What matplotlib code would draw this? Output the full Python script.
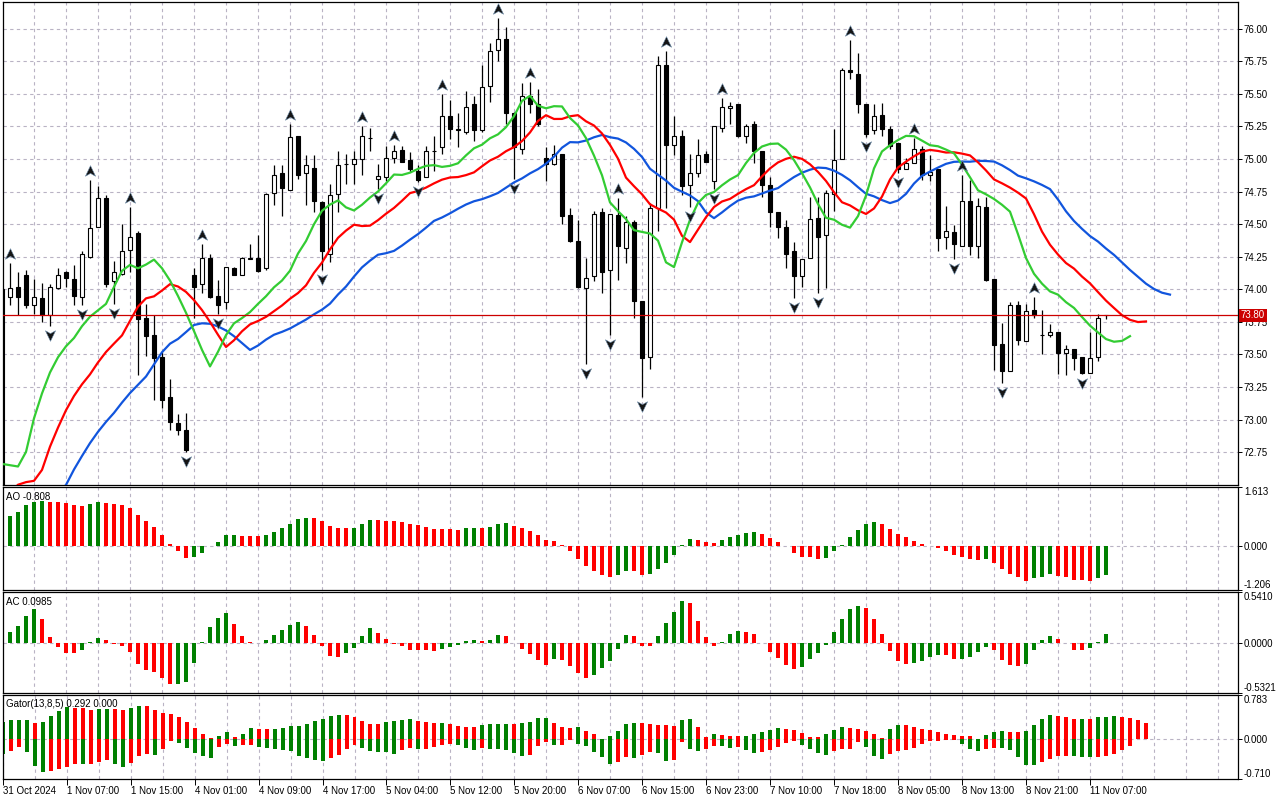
import numpy as np
import matplotlib
matplotlib.use("Agg")
import matplotlib.pyplot as plt
from matplotlib.path import Path
from matplotlib.transforms import ScaledTranslation, blended_transform_factory

plt.rcParams['font.family'] = ['Liberation Sans', 'DejaVu Sans']

# ---------------- data ----------------
first_bar = -1  # index of the first (partly hidden) candle

opens = [72.40, 73.94, 74.02, 74.11, 73.88, 73.93, 73.80, 74.01, 74.13, 74.08,
         73.94, 74.25, 74.48, 74.70, 74.06, 74.12, 74.30, 74.43, 73.78, 73.65,
         73.48, 73.17, 72.97, 72.92, 74.11, 74.04, 74.24, 73.95, 73.90, 74.16,
         74.11, 74.23, 74.24, 74.16, 74.74, 74.89, 74.76, 75.18, 74.89, 74.93,
         74.67, 74.27, 74.73, 74.96, 74.96, 75.00, 75.16, 74.85, 74.86, 75.01,
         75.07, 74.99, 74.91, 74.86, 75.06, 75.09, 75.33, 75.23, 75.21, 75.42,
         75.22, 75.56, 75.84, 75.92, 75.35, 75.08, 75.48, 75.42, 75.01, 74.96,
         75.04, 74.57, 74.37, 74.01, 74.10, 74.59, 74.15, 74.57, 74.32, 74.52,
         73.91, 73.48, 74.62, 75.72, 75.11, 75.18, 74.80, 74.89, 75.04, 74.83,
         75.24, 75.39, 75.42, 75.18, 75.27, 75.06, 74.80, 74.59, 74.48, 74.29,
         74.10, 74.24, 74.55, 74.42, 74.73, 75.00, 75.68, 75.65, 75.42, 75.22,
         75.34, 75.23, 75.12, 74.92, 74.97, 75.08, 74.88, 74.92, 74.40, 74.44,
         74.33, 74.68, 74.33, 74.63, 74.08, 73.58, 73.37, 73.88, 73.60, 73.84,
         73.65, 73.65, 73.67, 73.51, 73.54, 73.48, 73.36, 73.48, 73.80]

highs = [74.02, 74.20, 74.13, 74.15, 74.08, 74.05, 74.04, 74.16, 74.14, 74.19,
         74.29, 74.84, 74.79, 74.72, 74.22, 74.50, 74.63, 74.45, 73.89, 73.80,
         73.52, 73.31, 73.04, 73.05, 74.16, 74.35, 74.27, 74.07, 74.17, 74.17,
         74.25, 74.35, 74.42, 74.74, 74.95, 74.95, 75.27, 75.18, 75.03, 75.03,
         74.68, 74.81, 75.06, 75.04, 75.06, 75.25, 75.24, 74.96, 75.10, 75.11,
         75.10, 75.05, 74.95, 75.10, 75.18, 75.50, 75.45, 75.35, 75.52, 75.48,
         75.72, 75.89, 76.08, 76.01, 75.36, 75.58, 75.59, 75.54, 75.09, 75.11,
         75.04, 74.62, 74.53, 74.24, 74.60, 74.62, 74.58, 74.70, 74.56, 74.53,
         73.91, 74.66, 75.79, 75.83, 75.33, 75.22, 75.04, 75.15, 75.06, 75.25,
         75.47, 75.44, 75.42, 75.27, 75.29, 75.06, 74.86, 74.59, 74.53, 74.36,
         74.23, 74.71, 74.71, 74.76, 75.23, 75.70, 75.91, 75.81, 75.42, 75.42,
         75.43, 75.25, 75.12, 75.01, 75.16, 75.10, 75.03, 74.92, 74.64, 74.49,
         74.88, 74.84, 74.70, 74.71, 74.08, 73.74, 73.90, 73.91, 73.89, 73.94,
         73.84, 73.73, 73.67, 73.57, 73.54, 73.48, 73.67, 73.81, 73.80]

lows = [72.38, 73.88, 73.80, 73.86, 73.81, 73.75, 73.72, 74.00, 74.02, 73.88,
        73.88, 74.24, 74.48, 74.02, 73.89, 74.11, 74.13, 73.34, 73.49, 73.15,
        73.09, 72.92, 72.88, 72.75, 73.78, 73.97, 73.93, 73.81, 73.85, 74.11,
        74.11, 74.23, 74.13, 74.15, 74.65, 74.56, 74.76, 74.85, 74.65, 74.59,
        74.15, 74.21, 74.59, 74.81, 74.81, 74.88, 75.06, 74.77, 74.83, 74.97,
        74.98, 74.90, 74.82, 74.86, 74.91, 75.04, 75.15, 75.09, 75.19, 75.14,
        75.21, 75.44, 75.75, 75.27, 74.85, 75.04, 75.35, 75.25, 74.83, 74.95,
        74.50, 74.36, 74.01, 73.43, 74.06, 73.97, 73.65, 74.07, 74.20, 73.78,
        73.17, 73.39, 74.45, 74.62, 75.03, 74.72, 74.63, 74.86, 74.98, 74.77,
        75.21, 75.27, 75.17, 75.12, 74.97, 74.71, 74.48, 74.39, 74.16, 73.93,
        74.02, 74.24, 73.97, 74.01, 74.60, 75.00, 75.61, 75.35, 75.17, 75.19,
        75.18, 75.08, 74.89, 74.92, 74.97, 74.84, 74.83, 74.29, 74.31, 74.23,
        74.33, 74.26, 74.24, 74.06, 73.38, 73.28, 73.37, 73.57, 73.60, 73.78,
        73.50, 73.63, 73.35, 73.34, 73.38, 73.35, 73.36, 73.45, 73.77]

closes = [74.00, 74.01, 73.94, 73.88, 73.94, 73.80, 74.02, 74.11, 74.09, 73.95,
          74.27, 74.47, 74.70, 74.04, 74.13, 74.29, 74.40, 73.77, 73.64, 73.47,
          73.15, 72.98, 72.92, 72.77, 74.02, 74.24, 73.94, 73.88, 74.17, 74.11,
          74.24, 74.24, 74.14, 74.73, 74.88, 74.78, 75.17, 74.88, 74.95, 74.68,
          74.29, 74.72, 74.95, 74.96, 75.00, 75.18, 75.16, 74.87, 75.01, 75.06,
          74.98, 74.92, 74.84, 75.06, 75.06, 75.33, 75.23, 75.22, 75.40, 75.22,
          75.55, 75.83, 75.92, 75.35, 75.09, 75.48, 75.42, 75.27, 74.96, 75.04,
          74.56, 74.37, 74.02, 74.09, 74.58, 74.13, 74.58, 74.33, 74.52, 73.91,
          73.47, 74.62, 75.72, 75.11, 75.18, 74.79, 74.89, 75.03, 74.98, 75.25,
          75.40, 75.41, 75.18, 75.25, 75.06, 74.80, 74.59, 74.48, 74.27, 74.10,
          74.23, 74.54, 74.40, 74.74, 74.99, 75.68, 75.67, 75.42, 75.19, 75.33,
          75.23, 75.10, 74.92, 74.97, 75.08, 74.88, 74.90, 74.39, 74.45, 74.35,
          74.68, 74.33, 74.64, 74.07, 73.57, 73.37, 73.88, 73.61, 73.83, 73.80,
          73.65, 73.67, 73.51, 73.54, 73.47, 73.36, 73.47, 73.78, 73.80]

ao = [0.66, 0.82, 0.94, 1.12, 1.20, 1.22, 1.21, 1.20, 1.18, 1.12,
      1.10, 1.15, 1.21, 1.18, 1.15, 1.12, 1.05, 0.85, 0.69, 0.52,
      0.30, 0.05, -0.15, -0.32, -0.29, -0.18, 0.01, 0.11, 0.30, 0.31,
      0.27, 0.265, 0.26, 0.30, 0.38, 0.49, 0.60, 0.74, 0.76, 0.755,
      0.69, 0.55, 0.49, 0.485, 0.49, 0.60, 0.72, 0.715, 0.68, 0.675,
      0.655, 0.60, 0.57, 0.52, 0.46, 0.455, 0.45, 0.44, 0.49, 0.495,
      0.49, 0.52, 0.60, 0.63, 0.55, 0.49, 0.41, 0.30, 0.16, 0.14,
      0.03, -0.15, -0.35, -0.55, -0.68, -0.79, -0.85, -0.79, -0.68, -0.685,
      -0.79, -0.76, -0.63, -0.46, -0.25, 0.03, 0.19, 0.16, 0.11, 0.08,
      0.16, 0.25, 0.30, 0.35, 0.38, 0.33, 0.22, 0.11, 0.005, -0.18,
      -0.29, -0.295, -0.35, -0.32, -0.15, 0.03, 0.25, 0.44, 0.60, 0.66,
      0.60, 0.46, 0.33, 0.25, 0.14, 0.05, -0.01, -0.05, -0.13, -0.24,
      -0.29, -0.37, -0.375, -0.37, -0.46, -0.62, -0.76, -0.86, -0.95, -0.89,
      -0.84, -0.78, -0.81, -0.84, -0.92, -0.925, -0.95, -0.89, -0.808]

ac = [0.05, 0.12, 0.185, 0.29, 0.36, 0.26, 0.064, -0.043, -0.107, -0.108,
      -0.075, 0.011, 0.053, 0.032, -0.007, -0.032, -0.096, -0.224, -0.288, -0.31,
      -0.374, -0.438, -0.436, -0.417, -0.214, 0.011, 0.171, 0.267, 0.32, 0.203,
      0.075, 0.011, -0.003, 0.032, 0.085, 0.139, 0.192, 0.224, 0.18, 0.085,
      -0.032, -0.139, -0.15, -0.107, -0.053, 0.075, 0.16, 0.107, 0.043, -0.007,
      -0.032, -0.075, -0.076, -0.078, -0.085, -0.064, -0.043, -0.021, 0.021, 0.032,
      0.021, 0.032, 0.085, 0.075, -0.003, -0.064, -0.117, -0.181, -0.235, -0.171,
      -0.181, -0.246, -0.32, -0.374, -0.342, -0.267, -0.192, -0.064, 0.085, 0.075,
      -0.032, -0.033, 0.075, 0.214, 0.331, 0.449, 0.427, 0.235, 0.064, -0.032,
      0.011, 0.096, 0.128, 0.117, 0.096, -0.003, -0.096, -0.16, -0.235, -0.278,
      -0.256, -0.171, -0.107, -0.021, 0.117, 0.256, 0.363, 0.395, 0.374, 0.256,
      0.096, -0.085, -0.192, -0.224, -0.214, -0.192, -0.149, -0.128, -0.129, -0.171,
      -0.17, -0.149, -0.096, -0.043, -0.075, -0.181, -0.235, -0.246, -0.224, -0.075,
      0.032, 0.075, 0.043, -0.003, -0.075, -0.076, -0.053, 0.011, 0.0985]

fractal_up = [0, 10, 15, 24, 35, 44, 48, 54, 61, 65, 76, 82, 89, 105, 113, 119, 128]
fractal_down = [5, 9, 13, 22, 26, 39, 46, 51, 63, 72, 75, 79, 85, 88, 98, 101,
                107, 111, 118, 124, 134]

# Alligator values before the first candle (plotted at the first bars)
lips_pre = [72.66, 72.65, 72.64]
teeth_pre = [72.40, 72.44, 72.50, 72.52, 72.53]
jaw_pre = [72.10, 72.10, 72.155, 72.17, 72.25, 72.31, 72.38, 72.44]

time_labels = ['31 Oct 2024', '1 Nov 07:00', '1 Nov 15:00', '4 Nov 01:00',
               '4 Nov 09:00', '4 Nov 17:00', '5 Nov 04:00', '5 Nov 12:00',
               '5 Nov 20:00', '6 Nov 07:00', '6 Nov 15:00', '6 Nov 23:00',
               '7 Nov 10:00', '7 Nov 18:00', '8 Nov 05:00', '8 Nov 13:00',
               '8 Nov 21:00', '11 Nov 07:00']
time_label_bars = list(range(-1, 136, 8))

price_ticks = [76.00, 75.75, 75.50, 75.25, 75.00, 74.75, 74.50, 74.25,
               74.00, 73.75, 73.50, 73.25, 73.00, 72.75]
last_price = 73.80
ao_range = (-1.206, 1.613)
ac_range = (-0.5321, 0.5410)
gator_range = (-0.710, 0.783)

# ---------------- derived ----------------
O = np.array(opens); H = np.array(highs); L = np.array(lows); C = np.array(closes)
bars = np.arange(first_bar, first_bar + len(O))
med = (H + L) / 2.0


def smma(values, period, seed):
    out, prev = [], seed
    for v in values:
        prev = (prev * (period - 1) + v) / period
        out.append(prev)
    return out


lips = np.array(lips_pre + smma(med, 5, lips_pre[-1]))
teeth = np.array(teeth_pre + smma(med, 8, teeth_pre[-1]))
jaw = np.array(jaw_pre + smma(med, 13, jaw_pre[-1]))
x_lips = np.arange(first_bar, first_bar + len(lips))
x_teeth = np.arange(first_bar, first_bar + len(teeth))
x_jaw = np.arange(first_bar, first_bar + len(jaw))

gator_up = np.abs(jaw[:len(teeth)] - teeth)
gator_dn = np.abs(teeth[:len(lips)] - lips)

GREEN = '#008000'
RED = '#ff0000'


def up_colors(vals):
    cols = [GREEN]
    for i in range(1, len(vals)):
        cols.append(GREEN if vals[i] > vals[i - 1] else RED)
    return cols


# ---------------- figure ----------------
W, Hh = 1280, 800
fig = plt.figure(figsize=(12.8, 8.0), dpi=100)
fig.patch.set_facecolor('white')

xl, xr = 2.7, 1237.7


def add_ax(top, bottom):
    return fig.add_axes([xl / W, (Hh - bottom) / Hh, (xr - xl) / W, (bottom - top) / Hh])


ax = add_ax(1.7, 485.0)
ax_ao = add_ax(487.0, 590.0)
ax_ac = add_ax(592.3, 692.7)
ax_g = add_ax(695.3, 779.0)

xmin = (xl - 10) / 8.0
xmax = (xr - 10) / 8.0
grid_kw = dict(color='#b9b3c4', lw=0.8, ls=(0, (3, 3)), zorder=0.5)
grid_bars = np.arange(-1, 154, 4)

for a in (ax, ax_ao, ax_ac, ax_g):
    a.set_xlim(xmin, xmax)
    for s in a.spines.values():
        s.set_color('black')
        s.set_linewidth(0.9)
    for gx in grid_bars:
        a.axvline(gx, **grid_kw)
    a.yaxis.tick_right()
    a.tick_params(axis='y', direction='out', length=3, width=0.7, pad=1.5,
                  labelsize=7, colors='black')
    a.set_facecolor('white')

# ---- main chart ----
ax.set_ylim(72.498, 76.207)
for p in price_ticks:
    ax.axhline(p, **grid_kw)
ax.set_yticks(price_ticks)
ax.set_yticklabels([f'{p:.2f}' for p in price_ticks])
ax.set_xticks([])

ax.vlines(bars, L, H, color='black', lw=0.9, zorder=2)
body_bottom = np.minimum(O, C)
body_h = np.maximum(np.abs(C - O), 0.0001)
face = ['white' if c >= o else 'black' for o, c in zip(O, C)]
ax.bar(bars, body_h, bottom=body_bottom, width=0.6, color=face,
       edgecolor='black', linewidth=0.8, zorder=2.2)

ax.plot(x_jaw, jaw, color='#1155dd', lw=1.6, zorder=3)
ax.plot(x_teeth, teeth, color='#ff0000', lw=1.6, zorder=3)
ax.plot(x_lips, lips, color='#33cc33', lw=1.6, zorder=3)

ax.axhline(last_price, color='#cc0000', lw=0.9, zorder=3.5)
ax.annotate(f'{last_price:.2f}', xy=(1.0, last_price),
            xycoords=('axes fraction', 'data'), xytext=(2.2, 0),
            textcoords='offset points', ha='left', va='center', color='white',
            fontsize=7, annotation_clip=False, zorder=10,
            bbox=dict(boxstyle='square,pad=0.18', fc='#cc0000', ec='none'))

up_marker = Path([(0, 0.55), (0.48, -0.45), (0, -0.18), (-0.48, -0.45), (0, 0.55)],
                 [Path.MOVETO, Path.LINETO, Path.LINETO, Path.LINETO, Path.CLOSEPOLY])
dn_marker = Path([(0, -0.55), (0.48, 0.45), (0, 0.18), (-0.48, 0.45), (0, -0.55)],
                 [Path.MOVETO, Path.LINETO, Path.LINETO, Path.LINETO, Path.CLOSEPOLY])
off_up = ax.transData + ScaledTranslation(0, 9 / 100.0, fig.dpi_scale_trans)
off_dn = ax.transData + ScaledTranslation(0, -9 / 100.0, fig.dpi_scale_trans)
fu = np.array(fractal_up); fd = np.array(fractal_down)
ax.scatter(fu, H[fu - first_bar], marker=up_marker, s=70, color='#151515',
           edgecolors='#6a8aa8', linewidths=0.4, transform=off_up, zorder=4)
ax.scatter(fd, L[fd - first_bar], marker=dn_marker, s=70, color='#151515',
           edgecolors='#6a8aa8', linewidths=0.4, transform=off_dn, zorder=4)


# ---- indicator panels ----
def panel(a, rng, labels):
    a.set_ylim(*rng)
    a.axhline(0, **grid_kw)
    a.set_yticks([rng[0], 0, rng[1]])
    a.set_yticklabels(labels)
    tl = a.get_yticklabels()
    tl[0].set_va('bottom'); tl[2].set_va('top')
    a.set_xticks([])


panel(ax_ao, ao_range, ['-1.206', '0.000', '1.613'])
ax_ao.bar(bars, ao, width=0.5, color=up_colors(ao), zorder=2)
ax_ao.text(0.0027, 0.903, 'AO -0.808', transform=ax_ao.transAxes, fontsize=7,
           ha='left', va='center')

panel(ax_ac, ac_range, ['-0.5321', '0.0000', '0.5410'])
ax_ac.bar(bars, ac, width=0.5, color=up_colors(ac), zorder=2)
ax_ac.text(0.0027, 0.906, 'AC 0.0985', transform=ax_ac.transAxes, fontsize=7,
           ha='left', va='center')

panel(ax_g, gator_range, ['-0.710', '0.000', '0.783'])
xg_up = np.arange(first_bar, first_bar + len(gator_up))
xg_dn = np.arange(first_bar, first_bar + len(gator_dn))
ax_g.bar(xg_up, gator_up, width=0.5, color=up_colors(gator_up), zorder=2)
ax_g.bar(xg_dn, -gator_dn, width=0.5, color=up_colors(gator_dn), zorder=2)
ax_g.text(0.0027, 0.8925, 'Gator(13,8,5) 0.292 0.000', transform=ax_g.transAxes,
          fontsize=7, ha='left', va='center')

ax_g.set_xticks(time_label_bars)
ax_g.set_xticklabels(time_labels, ha='left')
ax_g.tick_params(axis='x', direction='out', length=4, width=0.7, pad=1,
                 labelsize=7, colors='black')

fig.savefig('out.png', dpi=100, facecolor='white')
